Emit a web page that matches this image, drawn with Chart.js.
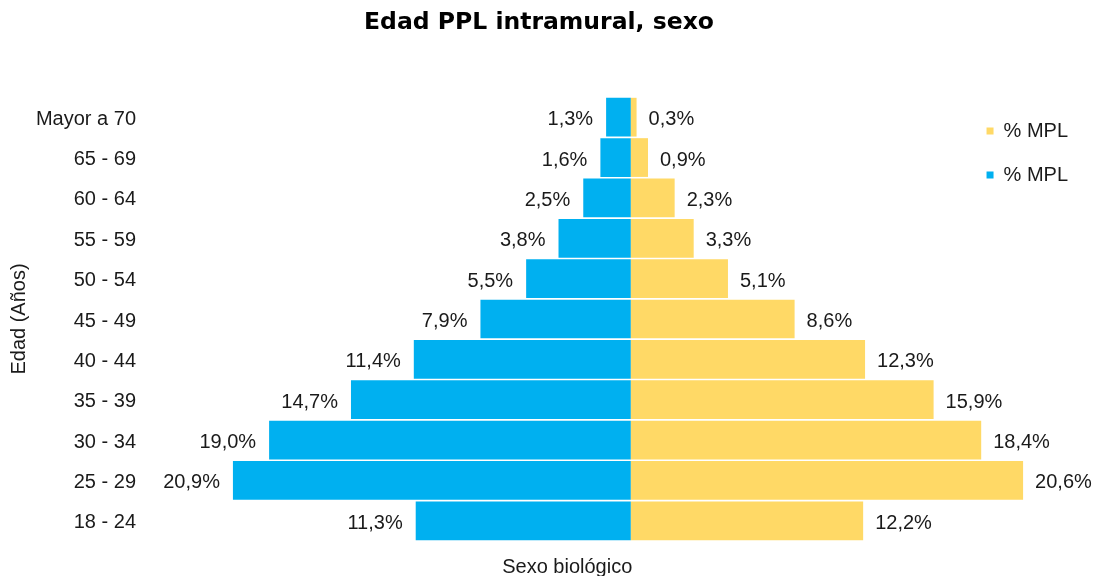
<!DOCTYPE html>
<html>
<head>
<meta charset="utf-8">
<script src="https://cdn.jsdelivr.net/npm/chart.js@4.4.1/dist/chart.umd.min.js"></script>
<style>
  html, body { margin: 0; padding: 0; background: #fff; }
  #wrap { width: 1094px; height: 576px; }
</style>
</head>
<body>
<div id="wrap"><canvas id="c" width="1094" height="576"></canvas></div>
<script>
const categories = ["Mayor a 70", "65 - 69", "60 - 64", "55 - 59", "50 - 54", "45 - 49", "40 - 44", "35 - 39", "30 - 34", "25 - 29", "18 - 24"];
const blueValues = [1.3, 1.6, 2.5, 3.8, 5.5, 7.9, 11.4, 14.7, 19.0, 20.9, 11.3];
const yellowValues = [0.3, 0.9, 2.3, 3.3, 5.1, 8.6, 12.3, 15.9, 18.4, 20.6, 12.2];
const seriesLabels = ["% MPL", "% MPL"];
const xMin = -24.1, xMax = 17.42;

const FONT = "'Liberation Sans', Arial, sans-serif";
const fmt = v => Math.abs(v).toFixed(1).replace('.', ',') + '%';

const labelPlugin = {
  id: 'barLabels',
  afterDatasetsDraw(chart) {
    const ctx = chart.ctx;
    ctx.save();
    ctx.font = "20px " + FONT;
    ctx.fillStyle = '#1a1a1a';
    ctx.textBaseline = 'middle';
    chart.data.datasets.forEach((ds, di) => {
      const meta = chart.getDatasetMeta(di);
      meta.data.forEach((bar, i) => {
        const v = ds.data[i];
        if (v < 0) {
          ctx.textAlign = 'right';
          ctx.fillText(fmt(v), bar.x - 13, bar.y + 2.5);
        } else {
          ctx.textAlign = 'left';
          ctx.fillText(fmt(v), bar.x + 12, bar.y + 2.5);
        }
      });
    });
    ctx.restore();
  }
};

new Chart(document.getElementById('c'), {
  type: 'bar',
  data: {
    labels: categories,
    datasets: [
      { label: seriesLabels[0], data: yellowValues.slice(), backgroundColor: '#FFD966', borderWidth: 0, clip: false },
      { label: seriesLabels[1], data: blueValues.map(v => -v), backgroundColor: '#00B0F0', borderWidth: 0, clip: false }
    ]
  },
  options: {
    indexAxis: 'y',
    responsive: false,
    animation: false,
    barPercentage: 0.96,
    categoryPercentage: 1.0,
    layout: { padding: { left: 0, right: 16, top: 0, bottom: 0 } },
    plugins: {
      title: {
        display: true,
        text: 'Edad PPL intramural, sexo',
        font: { family: "'DejaVu Sans', Verdana, sans-serif", size: 23.5, weight: 'bold' },
        color: '#000',
        padding: { top: 8.9, bottom: 59.9 }
      },
      legend: {
        position: 'right',
        align: 'start',
        fullSize: false,
        labels: {
          boxWidth: 7,
          boxHeight: 7,
          padding: 24,
          color: '#1a1a1a',
          font: { family: FONT, size: 20 }
        }
      },
      tooltip: { enabled: false }
    },
    scales: {
      x: {
        stacked: true,
        min: xMin,
        max: xMax,
        grid: { display: false, drawTicks: false },
        border: { display: false },
        ticks: { display: false },
        title: {
          display: true,
          text: 'Sexo biológico',
          color: '#1a1a1a',
          font: { family: FONT, size: 20 },
          padding: { top: 14, bottom: -3 }
        }
      },
      y: {
        stacked: true,
        grid: { display: false, drawTicks: false },
        border: { display: false },
        ticks: { color: '#1a1a1a', font: { family: FONT, size: 20 }, padding: 36, labelOffset: 2 },
        title: {
          display: true,
          text: 'Edad (Años)',
          color: '#1a1a1a',
          font: { family: FONT, size: 20 },
          padding: { top: 7, bottom: 0 }
        },
        afterFit(scale) {
          scale.width = 172;
          scale.paddingTop = 0;
          scale.paddingBottom = 0;
        }
      }
    }
  },
  plugins: [labelPlugin]
});
</script>
</body>
</html>
